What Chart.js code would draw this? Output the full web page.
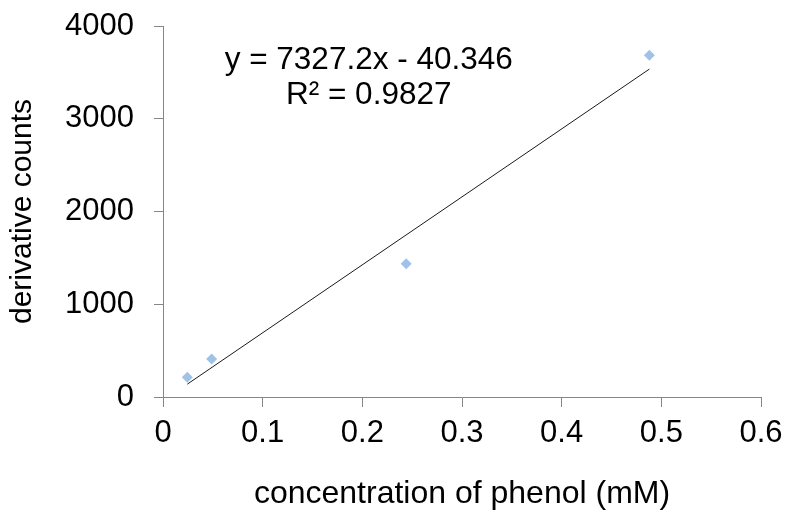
<!DOCTYPE html>
<html>
<head>
<meta charset="utf-8">
<script src="https://cdn.jsdelivr.net/npm/chart.js@4"></script>
<style>
  html, body { margin: 0; padding: 0; background: #fff; }
  #wrap { width: 786px; height: 511px; }
</style>
</head>
<body>
<div id="wrap"><canvas id="chart" width="786" height="511"></canvas></div>
<script>
// measured points
const concentrations = [0.0244, 0.0488, 0.244, 0.488];
const counts = [212, 411, 1438, 3685];

// linear fit shown on the chart
const slope = 7327.2;
const intercept = -40.346;
const fitLabels = ['y = 7327.2x - 40.346', 'R\u00b2 = 0.9827'];

const xTickLabels = ['0', '0.1', '0.2', '0.3', '0.4', '0.5', '0.6'];
const yTickLabels = ['0', '1000', '2000', '3000', '4000'];

const fontFamily = '"Liberation Sans", Arial, sans-serif';
const axisGrey = '#868686';

const points = concentrations.map((x, i) => ({ x, y: counts[i] }));
const xFirst = concentrations[0];
const xLast = concentrations[concentrations.length - 1];
const trendPoints = [
  { x: xFirst, y: slope * xFirst + intercept },
  { x: xLast, y: slope * xLast + intercept },
];

// draws the equation text block
const fitText = {
  id: 'fitText',
  afterDatasetsDraw(chart) {
    const { ctx, scales } = chart;
    const cx = scales.x.getPixelForValue(0.2064);
    ctx.save();
    ctx.font = '31.5px ' + fontFamily;
    ctx.fillStyle = '#000';
    ctx.textAlign = 'center';
    ctx.textBaseline = 'middle';
    ctx.fillText(fitLabels[0], cx, scales.y.getPixelForValue(3627));
    ctx.fillText(fitLabels[1], cx, scales.y.getPixelForValue(3256));
    ctx.restore();
  }
};

const ctx = document.getElementById('chart').getContext('2d');

// eslint-disable-next-line no-undef
new Chart(ctx, {
  type: 'scatter',
  data: {
    datasets: [
      {
        label: 'derivative counts',
        data: points,
        pointStyle: 'rectRot',
        pointRadius: 5.5,
        pointHoverRadius: 5.5,
        backgroundColor: '#9fc3e8',
        borderColor: '#9fc3e8',
        borderWidth: 0,
      },
      {
        type: 'line',
        label: 'Linear fit',
        data: trendPoints,
        borderColor: '#1a1a1a',
        borderWidth: 1,
        pointRadius: 0,
        fill: false,
      }
    ],
  },
  options: {
    responsive: false,
    animation: false,
    layout: { padding: { left: 0, right: 25, top: 26, bottom: 0 } },
    plugins: {
      legend: { display: false },
      tooltip: { enabled: false },
    },
    scales: {
      x: {
        type: 'linear',
        min: 0,
        max: 0.6,
        afterFit: (scale) => {
          scale.height = 114;
          scale.paddingLeft = 0;
          scale.paddingRight = 0;
        },
        ticks: {
          stepSize: 0.1,
          padding: 8,
          color: '#000',
          font: { family: fontFamily, size: 31 },
          callback: (value, index) => xTickLabels[index],
        },
        grid: { drawOnChartArea: false, drawTicks: true, tickLength: 10, color: axisGrey },
        border: { color: axisGrey, width: 1 },
        title: {
          display: true,
          text: 'concentration of phenol (mM)',
          color: '#000',
          font: { family: fontFamily, size: 32 },
          padding: { top: 0, bottom: -2 },
        },
      },
      y: {
        min: 0,
        max: 4000,
        afterFit: (scale) => {
          scale.width = 163;
          scale.paddingTop = 0;
          scale.paddingBottom = 0;
        },
        ticks: {
          stepSize: 1000,
          padding: 20,
          color: '#000',
          font: { family: fontFamily, size: 31 },
          callback: (value, index) => yTickLabels[index],
        },
        grid: { drawOnChartArea: false, drawTicks: true, tickLength: 9, color: axisGrey },
        border: { color: axisGrey, width: 1 },
        title: {
          display: true,
          text: 'derivative counts',
          color: '#000',
          font: { family: fontFamily, size: 30 },
          padding: { top: 5, bottom: 0 },
        },
      }
    }
  },
  plugins: [fitText]
});
</script>
</body>
</html>
